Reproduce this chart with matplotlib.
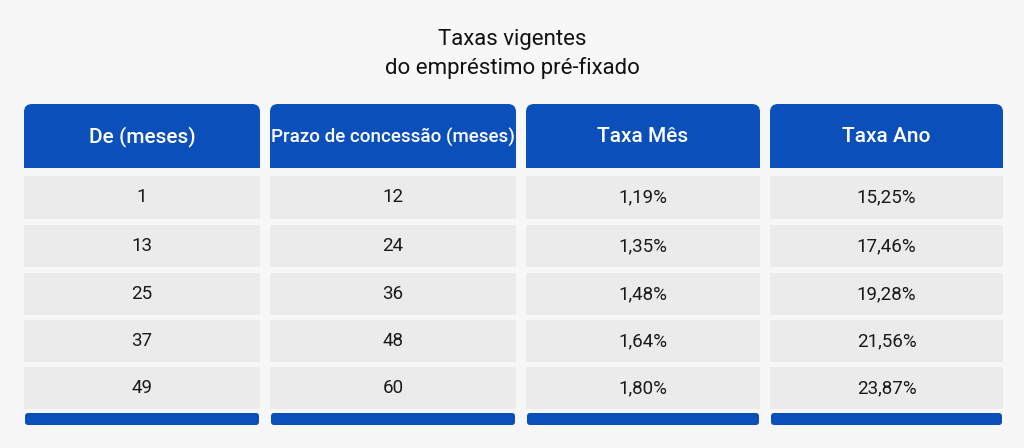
import matplotlib
matplotlib.use("Agg")
import matplotlib.pyplot as plt
from matplotlib.patches import FancyBboxPatch, Rectangle

title = "Taxas vigentes\ndo empréstimo pré-fixado"
headers = ["De (meses)", "Prazo de concessão (meses)", "Taxa Mês", "Taxa Ano"]
de = ["1", "13", "25", "37", "49"]
prazo = ["12", "24", "36", "48", "60"]
taxa_mes = ["1,19%", "1,35%", "1,48%", "1,64%", "1,80%"]
taxa_ano = ["15,25%", "17,46%", "19,28%", "21,56%", "23,87%"]
columns = [de, prazo, taxa_mes, taxa_ano]

BLUE = "#0b4fba"
CELL = "#ebebeb"
BG = "#f7f7f7"

fig = plt.figure(figsize=(10.24, 4.48), dpi=100, facecolor=BG)
ax = fig.add_axes([0, 0, 1, 1])
ax.set_xlim(0, 1024); ax.set_ylim(448, 0); ax.axis("off")
ax.set_facecolor(BG)

plt.rcParams['font.family'] = ['Roboto', 'DejaVu Sans']
ax.text(512, 54, title, ha="center", va="center", fontsize=16, color="#111", linespacing=1.45)

col_x = [(24, 260), (270, 516), (526, 760), (770, 1003)]
row_y = [(176, 219), (225, 267), (273, 315), (320, 362), (367, 409)]

for (x0, x1), h, vals in zip(col_x, headers, columns):
    w = x1 - x0
    ax.add_patch(FancyBboxPatch((x0 + 8, 104 + 8), w - 16, 64 - 16,
                                boxstyle="round,pad=8", fc=BLUE, ec="none"))
    ax.add_patch(Rectangle((x0, 140), w, 28, fc=BLUE, ec="none"))
    ax.text((x0 + x1) / 2, 137, h, ha="center", va="center", color="white",
            fontsize=15 if len(h) < 20 else 13.5, fontweight="medium", fontstretch="condensed")
    for (y0, y1), v in zip(row_y, vals):
        ax.add_patch(Rectangle((x0, y0), w, y1 - y0, fc=CELL, ec="none"))
        ax.text((x0 + x1) / 2, (y0 + y1) / 2, v, ha="center", va="center",
                color="#1a1a1a", fontsize=13.5)
    ax.add_patch(FancyBboxPatch((x0 + 4, 413 + 3), w - 8, 6,
                                boxstyle="round,pad=3", fc=BLUE, ec="none"))

fig.savefig("out.png", dpi=100, facecolor=BG)
